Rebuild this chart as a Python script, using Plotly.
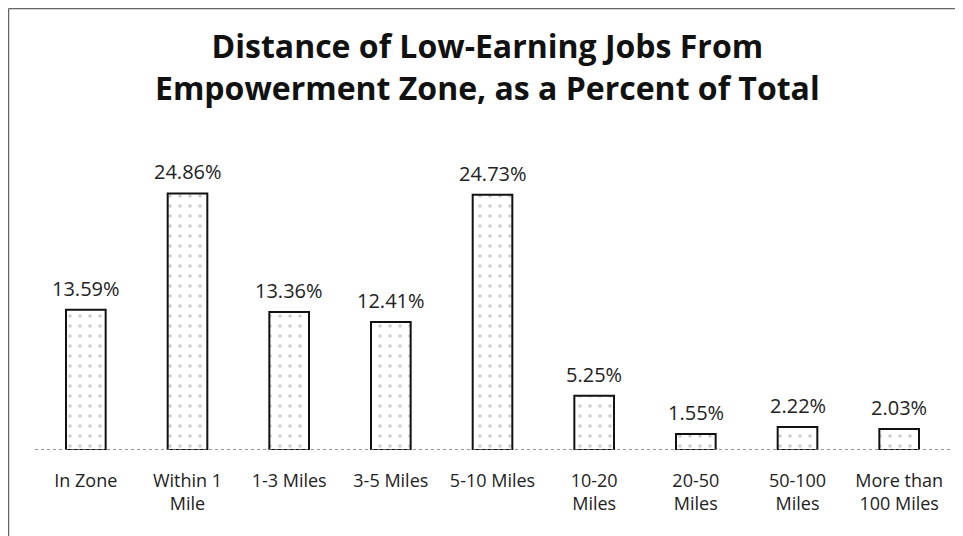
import plotly.graph_objects as go

categories = ["In Zone", "Within 1<br>Mile", "1-3 Miles", "3-5 Miles", "5-10 Miles",
              "10-20<br>Miles", "20-50<br>Miles", "50-100<br>Miles", "More than<br>100 Miles"]
values = [13.59, 24.86, 13.36, 12.41, 24.73, 5.25, 1.55, 2.22, 2.03]
value_labels = ["13.59%", "24.86%", "13.36%", "12.41%", "24.73%", "5.25%", "1.55%", "2.22%", "2.03%"]
title_text = "Distance of Low-Earning Jobs From<br>Empowerment Zone, as a Percent of Total"

# page offset (browser body margin)
OFF = 8
W, H = 963 - OFF, 536 - OFF
# plot area in page pixels: x 35..950, y 161..450
ML = 35 - OFF
MR = 963 - 950
MT = 161 - OFF
MB = 536 - 450
PW = W - ML - MR
PH = H - MT - MB

def px_x(p):  # page px -> paper x
    return (p - OFF - ML) / PW

def px_y(p):  # page px -> paper y
    return (H - MB - (p - OFF)) / PH

fig = go.Figure()
fig.add_trace(go.Bar(
    x=categories, y=values,
    marker=dict(color="white", line=dict(color="#111", width=2),
                pattern=dict(shape=".", fgcolor="#999", bgcolor="white", size=10, solidity=0.1)),
    hoverinfo="skip",
))

for c, v, t in zip(categories, values, value_labels):
    fig.add_annotation(x=c, y=v, text=t, showarrow=False, yanchor="bottom", yshift=6,
                       font=dict(family="Open Sans", size=20, color="#222"))

fig.add_annotation(x=px_x(487), y=px_y(67), xref="paper", yref="paper",
                   text="<b>" + title_text + "</b>", showarrow=False,
                   xanchor="center", yanchor="middle",
                   font=dict(family="Open Sans", size=32, color="#111"))

shapes = [
    dict(type="line", xref="paper", yref="y", x0=0, x1=1, y0=0, y1=0,
         line=dict(color="#777", width=1.5, dash="dot")),
    dict(type="line", xref="paper", yref="paper", x0=px_x(8.5), x1=px_x(963), y0=px_y(8.5), y1=px_y(8.5),
         line=dict(color="#666", width=1.5)),
    dict(type="line", xref="paper", yref="paper", x0=px_x(8.5), x1=px_x(8.5), y0=px_y(8.5), y1=px_y(536),
         line=dict(color="#666", width=1.5)),
]

fig.update_layout(
    width=W, height=H,
    margin=dict(l=ML, r=MR, t=MT, b=MB),
    paper_bgcolor="white", plot_bgcolor="white",
    bargap=0.61,
    showlegend=False,
    shapes=shapes,
    xaxis=dict(showline=False, showgrid=False, zeroline=False, ticks="",
               tickfont=dict(family="Open Sans", size=18, color="#222"),
               ticklabelstandoff=18),
    yaxis=dict(range=[0, 28], visible=False),
)

fig.write_html("out.html")
